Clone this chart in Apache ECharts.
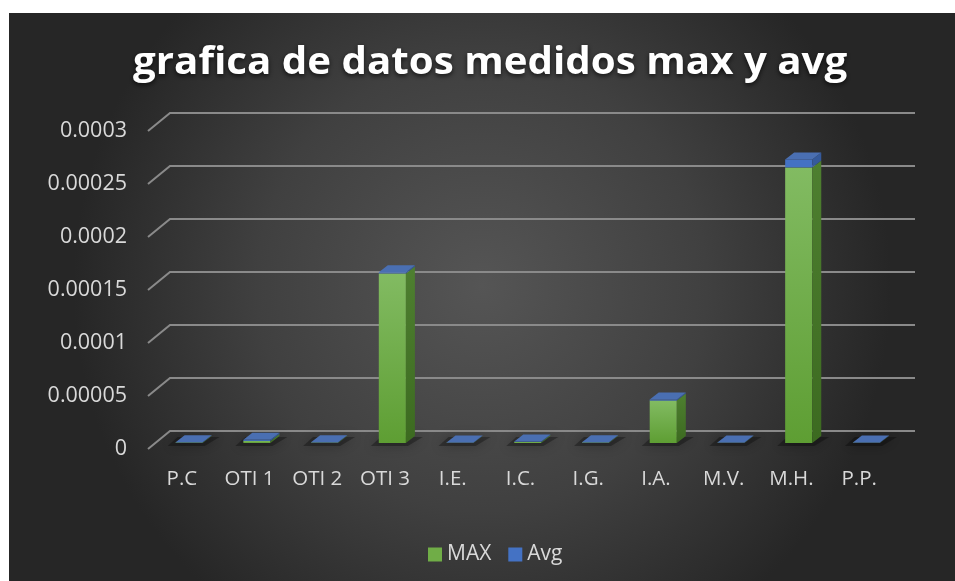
<!DOCTYPE html>
<html>
<head>
<meta charset="utf-8">
<script src="https://cdn.jsdelivr.net/npm/echarts@6/dist/echarts.min.js"></script>
<style>
  html, body { margin: 0; padding: 0; background: #ffffff; }
  #chart { width: 955px; height: 581px; }
</style>
</head>
<body>
<div id="chart"></div>
<script>
// ---- data ----
const titleText = 'grafica de datos medidos max y avg';
const categories = ['P.C', 'OTI 1', 'OTI 2', 'OTI 3', 'I.E.', 'I.C.', 'I.G.', 'I.A.', 'M.V.', 'M.H.', 'P.P.'];
const maxValues = [0.0000005, 0.000002, 0.0000004, 0.00016, 0.0000003, 0.000001, 0.0000005, 0.00004, 0.0000003, 0.00026, 0.0000003];
const avgValues = [0.0000002, 0.000001, 0.0000002, 0.000001, 0.0000002, 0.0000004, 0.0000002, 0.000001, 0.0000002, 0.0000075, 0.0000002];
const yTickLabels = ['0', '0.00005', '0.0001', '0.00015', '0.0002', '0.00025', '0.0003'];
const seriesNames = ['MAX', 'Avg'];

// ---- styling constants (3D look) ----
const WALL_DX = 22, WALL_DY = 18;     // back wall offset
const BAR_OFF_X = 7.3, BAR_OFF_Y = 6; // bar front plane offset
const SIDE_DX = 9, SIDE_DY = 7;       // bar depth
const BAR_RATIO = 0.4;

const yTicks = yTickLabels.map(Number);
const G = echarts.graphic;

function barGeom(api, i, from, to) {
  const base = api.coord([i, 0]);
  const band = api.size([1, 0])[0];
  const w = band * BAR_RATIO;
  const xl = base[0] + BAR_OFF_X - w / 2;
  const yb = base[1] - BAR_OFF_Y;
  const y0 = yb - api.size([0, from])[1];
  const y1 = yb - api.size([0, to])[1];
  return { xl: xl, xr: xl + w, w: w, yb: yb, y0: y0, y1: y1 };
}

const chart = echarts.init(document.getElementById('chart'), null, { renderer: 'canvas' });

const option = {
  animation: false,
  backgroundColor: 'transparent',
  graphic: [{
    type: 'rect', z: -10, silent: true,
    shape: { x: 9, y: 13, width: 946, height: 568 },
    style: {
      fill: new G.RadialGradient(0.5, 0.48, 0.72, [
        { offset: 0, color: '#555555' },
        { offset: 0.55, color: '#404040' },
        { offset: 1, color: '#262626' }
      ])
    }
  }, {
    type: 'text', z: 10,
    x: 133, y: 44,
    scaleX: 1.06, scaleY: 1,
    style: {
      text: titleText,
      fill: '#ffffff',
      font: 'bold 38px "Open Sans", sans-serif',
      textAlign: 'left',
      textVerticalAlign: 'top',
      textShadowColor: 'rgba(0,0,0,0.7)',
      textShadowBlur: 5,
      textShadowOffsetY: 2
    }
  }],
  legend: {
    data: seriesNames,
    left: 423, top: 539,
    icon: 'rect',
    itemWidth: 14, itemHeight: 14,
    itemGap: 17,
    textStyle: { color: '#d9d9d9', fontSize: 21, fontFamily: 'Open Sans' }
  },
  grid: { left: 148, right: 62, top: 131, bottom: 132, containLabel: false },
  xAxis: {
    type: 'category',
    data: categories,
    axisLine: { show: false },
    axisTick: { show: false },
    axisLabel: { color: '#d9d9d9', fontSize: 20.5, fontFamily: 'Open Sans', margin: 20, interval: 0, hideOverlap: false },
    splitLine: { show: false }
  },
  yAxis: {
    type: 'value',
    min: 0, max: 0.0003, interval: 0.00005,
    axisLine: { show: false },
    axisTick: { show: false },
    splitLine: { show: false },
    axisLabel: {
      color: '#d9d9d9', fontSize: 21.5, fontFamily: 'Open Sans', margin: 21,
      formatter: function (v, idx) { return yTickLabels[idx] !== undefined ? yTickLabels[idx] : String(v); }
    }
  },
  series: [{
    type: 'custom',
    name: 'walls',
    z: 1,
    silent: true,
    clip: false,
    data: [[0, 0]],
    renderItem: function (params, api) {
      const cs = params.coordSys;
      const children = yTicks.map(function (t) {
        const y = api.coord([0, t])[1];
        return {
          type: 'polyline',
          shape: { points: [[cs.x, y], [cs.x + WALL_DX, y - WALL_DY], [cs.x + cs.width + WALL_DX, y - WALL_DY]] },
          style: { stroke: '#8a8a8a', lineWidth: 2, fill: null }
        };
      });
      return { type: 'group', children: children };
    }
  }, {
    type: 'custom',
    name: 'MAX',
    z: 2,
    clip: false,
    itemStyle: { color: '#70ad47' },
    data: maxValues.map(function (v, i) { return [i, v]; }),
    renderItem: function (params, api) {
      const i = api.value(0), v = api.value(1);
      const g = barGeom(api, i, 0, v);
      const children = [];
      // floor shadow
      children.push({
        type: 'polygon',
        shape: { points: [[g.xl - 8, g.yb + 3], [g.xr + 2, g.yb + 3], [g.xr + SIDE_DX + 8, g.yb - SIDE_DY + 1], [g.xl + 2, g.yb - SIDE_DY + 1]] },
        style: { fill: 'rgba(0,0,0,0.3)', shadowBlur: 12, shadowColor: 'rgba(0,0,0,0.85)' }
      });
      if (g.yb - g.y1 > 0.05) {
        children.push({
          type: 'rect',
          shape: { x: g.xl, y: g.y1, width: g.w, height: g.yb - g.y1 },
          style: { fill: new G.LinearGradient(0, 0, 0, 1, [{ offset: 0, color: '#82bb62' }, { offset: 1, color: '#5e9e33' }]) }
        });
        children.push({
          type: 'polygon',
          shape: { points: [[g.xr, g.yb], [g.xr, g.y1], [g.xr + SIDE_DX, g.y1 - SIDE_DY], [g.xr + SIDE_DX, g.yb - SIDE_DY]] },
          style: { fill: new G.LinearGradient(0, 0, 0, 1, [{ offset: 0, color: '#4e7f30' }, { offset: 1, color: '#3c6a20' }]) }
        });
      }
      return { type: 'group', children: children };
    }
  }, {
    type: 'custom',
    name: 'Avg',
    z: 3,
    clip: false,
    itemStyle: { color: '#4472c4' },
    data: avgValues.map(function (v, i) { return [i, v, maxValues[i]]; }),
    renderItem: function (params, api) {
      const i = api.value(0), v = api.value(1), m = api.value(2);
      const g = barGeom(api, i, m, m + v);
      const children = [];
      if (g.y0 - g.y1 > 0.05) {
        children.push({
          type: 'rect',
          shape: { x: g.xl, y: g.y1, width: g.w, height: g.y0 - g.y1 },
          style: { fill: '#4472c4' }
        });
        children.push({
          type: 'polygon',
          shape: { points: [[g.xr, g.y0], [g.xr, g.y1], [g.xr + SIDE_DX, g.y1 - SIDE_DY], [g.xr + SIDE_DX, g.y0 - SIDE_DY]] },
          style: { fill: '#355a9c' }
        });
      }
      children.push({
        type: 'polygon',
        shape: { points: [[g.xl, g.y1], [g.xr, g.y1], [g.xr + SIDE_DX, g.y1 - SIDE_DY], [g.xl + SIDE_DX, g.y1 - SIDE_DY]] },
        style: { fill: '#4a6fb2' }
      });
      return { type: 'group', children: children };
    }
  }]
};

chart.setOption(option);
</script>
</body>
</html>
